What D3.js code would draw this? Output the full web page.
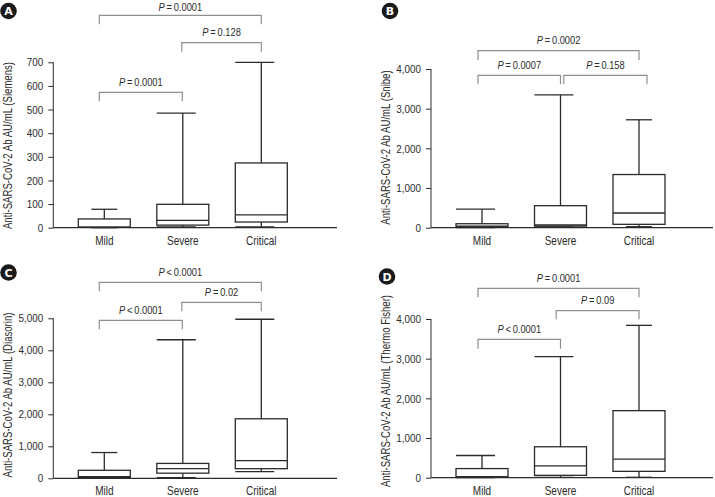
<!DOCTYPE html>
<html><head><meta charset="utf-8">
<script src="https://cdn.jsdelivr.net/npm/d3@7"></script>
<style>
body{margin:0;background:#fff;}
svg text{font-family:"Liberation Sans",Arial,sans-serif;fill:#2b2b2b;}
</style></head><body>
<svg id="c" width="715" height="497"></svg>
<script>
const categories = ["Mild", "Severe", "Critical"];
const panelLetters = ["A", "B", "C", "D"];
const yTitles = [
  "Anti-SARS-CoV-2 Ab AU/mL (Siemens)",
  "Anti-SARS-CoV-2 Ab AU/mL (Snibe)",
  "Anti-SARS-CoV-2 Ab AU/mL (Diasorin)",
  "Anti-SARS-CoV-2 Ab AU/mL (Thermo Fisher)"
];
const yMax = [700, 4000, 5000, 4000];
const yTicks = [
  [0,100,200,300,400,500,600,700],
  [0,1000,2000,3000,4000],
  [0,1000,2000,3000,4000,5000],
  [0,1000,2000,3000,4000]
];
// box stats: [min, q1, median, q3, max] per category
const statsA = [[0,2,2,37,78],[3,11,31,99,485],[3,24,54,274,700]];
const statsB = [[0,25,40,100,470],[20,40,68,555,3350],[25,85,370,1340,2720]];
const statsC = [[0,30,50,250,805],[20,160,300,465,4330],[210,300,550,1860,4970]];
const statsD = [[0,10,25,230,560],[10,60,300,780,3050],[10,160,470,1690,3840]];
const allStats = [statsA, statsB, statsC, statsD];
// comparisons: [from, to, p-value, relation]
const compA = [[0,2,"0.0001","="],[1,2,"0.128","="],[0,1,"0.0001","="]];
const compB = [[0,2,"0.0002","="],[0,1,"0.0007","="],[1,2,"0.158","="]];
const compC = [[0,2,"0.0001","<"],[1,2,"0.02","="],[0,1,"0.0001","<"]];
const compD = [[0,2,"0.0001","="],[1,2,"0.09","="],[0,1,"0.0001","<"]];
const allComps = [compA, compB, compC, compD];

// layout (pixels)
const layout = [
  {left:53.3, right:337, bottom:227.7, top:62.3, letter:[8.5,11], titleX:8, titleY:145.5,
   br:[{y:15.3,leg:9,dx1:-5,dx2:0,ty:4.6},{y:42.7,leg:9,dx1:-1,dx2:0,ty:6.8},{y:92.3,leg:9,dx1:-5,dx2:-0.5,ty:6.8}],
   capL:[13,26,26]},
  {left:431, right:713, bottom:227.7, top:69, letter:[390,11], titleX:386, titleY:147.5,
   br:[{y:50.7,leg:9.3,dx1:-4,dx2:0,ty:6.8},{y:75.3,leg:9,dx1:-4,dx2:0,ty:6.8},{y:75.3,leg:9,dx1:3.3,dx2:8,ty:6.8}],
   capL:[26,26,13]},
  {left:53.3, right:337, bottom:478.3, top:318.3, letter:[8.5,272.5], titleX:8, titleY:395,
   br:[{y:282.3,leg:9,dx1:-5,dx2:0,ty:6.8},{y:302.3,leg:9,dx1:-1,dx2:0,ty:6.8},{y:320.3,leg:9,dx1:-5,dx2:-0.5,ty:6.8}],
   capL:[13,26,26]},
  {left:431, right:713, bottom:477.7, top:319, letter:[387,276.5], titleX:386, titleY:391,
   br:[{y:288.3,leg:9,dx1:-4,dx2:0,ty:6.8},{y:310.7,leg:8.6,dx1:-4.3,dx2:0,ty:6.8},{y:339.3,leg:9.4,dx1:-4,dx2:0,ty:6.8}],
   capL:[26,26,13]}
];
const cond = 0.8; // horizontal condensing of the text face

const svg = d3.select("#c");
const dark = "#2b2b2b", gray = "#8f8f8f";

function ctext(parent, x, y, rot, f) {
  return parent.append("text")
    .attr("transform", `translate(${x},${y})` + (rot ? ` rotate(${rot})` : "") + ` scale(${f},1)`);
}

layout.forEach((L, p) => {
  const g = svg.append("g");
  const step = 78.5, off = 51;
  const d0 = -off/step, d1 = d0 + (L.right - L.left)/step;
  const x = d3.scaleLinear().domain([d0, d1]).range([L.left, L.right]);
  const y = d3.scaleLinear().domain([0, yMax[p]]).range([L.bottom, L.top]);

  // y axis
  const ya = d3.axisLeft(y).tickValues(yTicks[p]).tickSize(5).tickPadding(5)
    .tickFormat(d3.format(","));
  const yg = g.append("g").attr("transform", `translate(${L.left},0)`).call(ya);
  yg.select(".domain").attr("stroke", dark).attr("d", `M0,${L.top}V${L.bottom}`);
  yg.selectAll(".tick line").attr("stroke", dark);
  yg.selectAll(".tick text").attr("x", null).attr("font-size", 11.5)
    .attr("transform", `translate(-10,0) scale(0.86,1)`)
    .style("fill", dark).style("font-family", '"Liberation Sans",Arial,sans-serif');

  // x axis line
  g.append("line").attr("x1", L.left).attr("x2", L.right).attr("y1", L.bottom).attr("y2", L.bottom)
    .attr("stroke", dark).attr("stroke-width", 1.2);
  categories.forEach((c, i) => {
    ctext(g, x(i), L.bottom + 17, 0, cond).attr("text-anchor", "middle").attr("font-size", 12.5).text(c);
  });

  // y title
  ctext(g, L.titleX, L.titleY, -90, cond).attr("text-anchor", "middle").attr("dominant-baseline", "central")
    .attr("font-size", 12).text(yTitles[p]);

  // letter badge
  g.append("circle").attr("cx", L.letter[0]).attr("cy", L.letter[1]).attr("r", 8.3).attr("fill", "#1a1a1a");
  g.append("text").attr("x", L.letter[0]).attr("y", L.letter[1] + 0.5).attr("text-anchor", "middle")
    .attr("dominant-baseline", "central").attr("font-size", 11).attr("font-weight", "bold")
    .style("fill", "#fff").style("font-family", '"DejaVu Sans",sans-serif').text(panelLetters[p]);

  // boxes
  const bw = 52, capR = 13;
  allStats[p].forEach((s, i) => {
    const cx = x(i);
    const [mn, q1, md, q3, mx] = s;
    const bg = g.append("g").attr("stroke", dark).attr("stroke-width", 1.3).attr("fill", "none");
    bg.append("line").attr("x1", cx).attr("x2", cx).attr("y1", y(mx)).attr("y2", y(q3));
    bg.append("line").attr("x1", cx).attr("x2", cx).attr("y1", y(q1)).attr("y2", y(mn));
    bg.append("line").attr("x1", cx - L.capL[i]).attr("x2", cx + capR).attr("y1", y(mx)).attr("y2", y(mx));
    bg.append("line").attr("x1", cx - L.capL[i]).attr("x2", cx + capR).attr("y1", y(mn)).attr("y2", y(mn));
    bg.append("rect").attr("x", cx - bw/2).attr("width", bw).attr("y", y(q3)).attr("height", y(q1) - y(q3))
      .attr("fill", "#fff");
    bg.append("line").attr("x1", cx - bw/2).attr("x2", cx + bw/2).attr("y1", y(md)).attr("y2", y(md));
  });

  // brackets
  allComps[p].forEach((c, k) => {
    const B = L.br[k];
    const x1 = x(c[0]) + B.dx1, x2 = x(c[1]) + B.dx2;
    g.append("path").attr("d", `M${x1},${B.y + B.leg}V${B.y}H${x2}V${B.y + B.leg}`)
      .attr("fill", "none").attr("stroke", gray).attr("stroke-width", 1.2);
    const t = ctext(g, (x1 + x2)/2, B.y - B.ty, 0, cond).attr("text-anchor", "middle").attr("font-size", 11.6);
    t.append("tspan").attr("font-style", "italic").text("P");
    t.append("tspan").text((c[3] === "=" ? "\u2009=\u2009" : "\u2009<\u2009") + c[2]);
  });
});
</script></body></html>
